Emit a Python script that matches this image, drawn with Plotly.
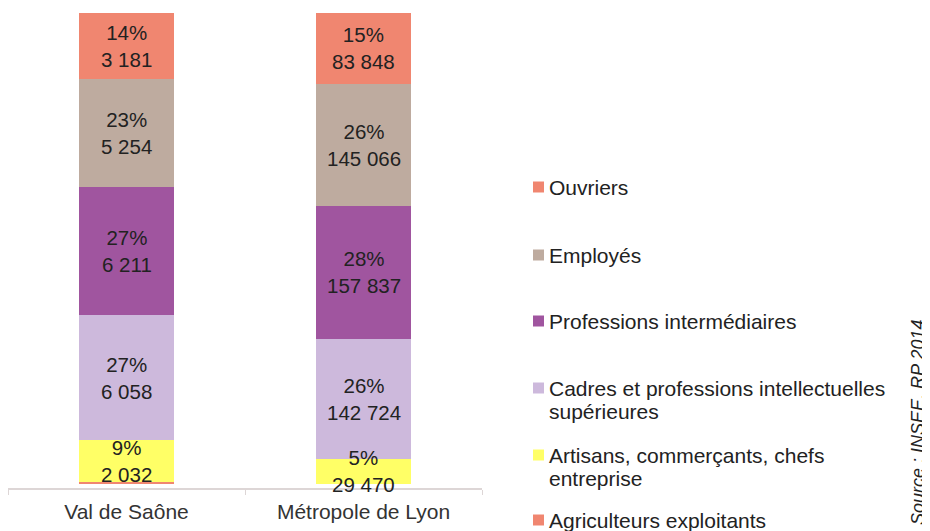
import plotly.graph_objects as go

# données : catégories socioprofessionnelles (RP 2014)
territoires = ["Val de Saône", "Métropole de Lyon"]
categories = [
    "Agriculteurs exploitants",
    "Artisans, commerçants, chefs entreprise",
    "Cadres et professions intellectuelles supérieures",
    "Professions intermédiaires",
    "Employés",
    "Ouvriers",
]
agriculteurs = [95, 280]
artisans = [2032, 29470]
cadres = [6058, 142724]
prof_inter = [6211, 157837]
employes = [5254, 145066]
ouvriers = [3181, 83848]

couleurs = ["#F08670", "#FFFF66", "#CDB9DC", "#A0559F", "#BEAB9F", "#F08670"]
# libellés de légende (découpés comme dans l'original)
legende = [
    ["Ouvriers"],
    ["Employés"],
    ["Professions intermédiaires"],
    ["Cadres et professions intellectuelles", "supérieures"],
    ["Artisans, commerçants, chefs", "entreprise"],
    ["Agriculteurs exploitants"],
]
legende_couleurs = ["#F08670", "#BEAB9F", "#A0559F", "#CDB9DC", "#FFFF66", "#F08670"]

series = [agriculteurs, artisans, cadres, prof_inter, employes, ouvriers]
totaux = [sum(s[i] for s in series) for i in range(len(territoires))]

FONT = "Liberation Sans, Arial, sans-serif"
# la page html ajoute 8 px de marge : on travaille en pixels de la page
OFF = 8
W, H = 930 - OFF, 531 - OFF
L, R, T, B = 8, 482, 13, 488


def px_x(px):
    return (px - L) / (R - L)


def px_y(py):
    return (B - py) / (B - T)


def fmt(v):
    return f"{v:,}".replace(",", " ")


fig = go.Figure()

for nom, vals, col in zip(categories, series, couleurs):
    fig.add_trace(go.Bar(
        x=territoires, y=vals, name=nom,
        marker=dict(color=col, line=dict(width=0)),
        showlegend=False, hoverinfo="x+y+name",
    ))

annotations = []
shapes = []

# étiquettes des barres (au-dessus de toutes les barres)
for i, terr in enumerate(territoires):
    cumul = 0.0
    for k, vals in enumerate(series):
        pct = 100 * vals[i] / totaux[i]
        if k > 0:
            annotations.append(dict(
                text=f"{round(pct)}%<br>{fmt(vals[i])}",
                x=terr, y=cumul + pct / 2, xref="x", yref="y",
                showarrow=False, xanchor="center", yanchor="middle",
                font=dict(family=FONT, size=20.5, color="#222222"),
            ))
        cumul += pct

# légende dessinée à la main (espacement régulier)
leg_y = [187, 255, 321, 388, 455, 520]
for lignes, col, y0 in zip(legende, legende_couleurs, leg_y):
    shapes.append(dict(
        type="rect", xref="paper", yref="paper",
        x0=px_x(533), x1=px_x(544), y0=px_y(y0 + 5.5), y1=px_y(y0 - 5.5),
        fillcolor=col, line=dict(width=0),
    ))
    for j, ligne in enumerate(lignes):
        annotations.append(dict(
            text=ligne, xref="paper", yref="paper",
            x=px_x(547), y=px_y(y0 + 23.5 * j),
            xanchor="left", yanchor="middle", showarrow=False,
            font=dict(family=FONT, size=21, color="#222222"),
        ))

annotations.append(dict(
    text="<i>Source : INSEE, RP 2014</i>", xref="paper", yref="paper",
    x=px_x(918), y=px_y(423), xanchor="center", yanchor="middle",
    textangle=-90, showarrow=False,
    font=dict(family=FONT, size=18, color="#222222"),
))

fig.update_layout(
    barmode="stack", barnorm="percent", bargap=0.595,
    width=W, height=H,
    margin=dict(l=L - OFF, r=W - (R - OFF), t=T - OFF, b=H - (B - OFF)),
    paper_bgcolor="white", plot_bgcolor="white",
    font=dict(family=FONT, size=20, color="#333333"),
    annotations=annotations, shapes=shapes,
    showlegend=False,
)
fig.update_xaxes(
    showline=True, linecolor="#DDD6D6", linewidth=1.5,
    ticks="outside", tickson="boundaries", ticklen=5, tickcolor="#DDD6D6",
    ticklabelstandoff=4,
    tickfont=dict(family=FONT, size=21, color="#333333"),
    showgrid=False,
)
fig.update_yaxes(range=[-0.85, 100], visible=False, showgrid=False)

fig.write_html("out.html")
